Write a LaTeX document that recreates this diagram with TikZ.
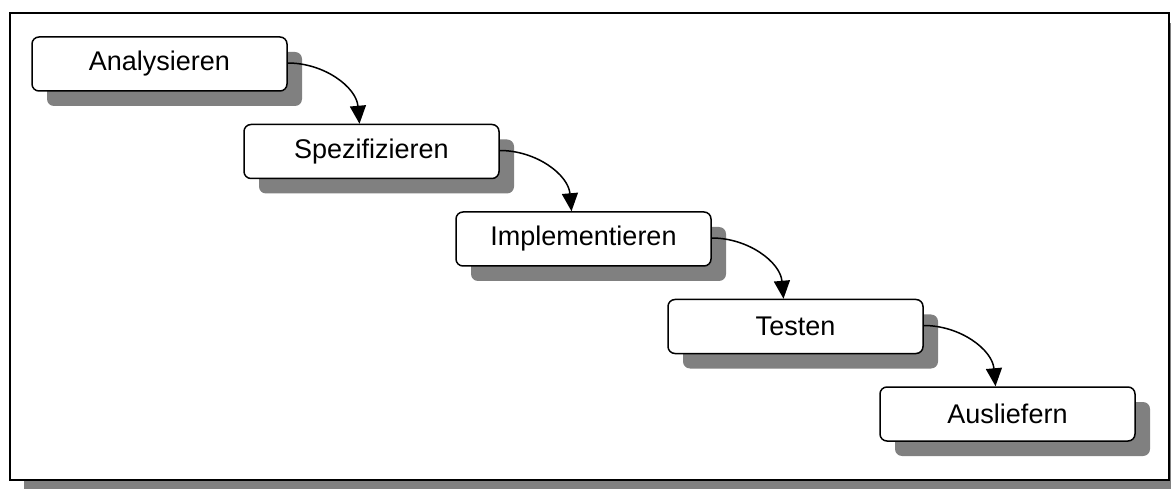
\documentclass[tikz,border=0pt]{standalone}
\usepackage{fontspec}
\setmainfont{Liberation Sans}
\usetikzlibrary{arrows.meta,shadows}
\definecolor{shadowgray}{HTML}{808080}
\tikzset{
  phase/.style={draw=black, line width=1.5pt, rounded corners=7pt, fill=white,
    minimum width=255pt, minimum height=54pt, inner sep=0pt,
    font=\fontsize{27}{32}\selectfont,
    drop shadow={shadow xshift=15pt, shadow yshift=-15pt, fill=shadowgray, opacity=1}},
  flow/.style={line width=1.5pt, -{Triangle[length=18pt,width=16pt]}}
}
\begin{document}
\begin{tikzpicture}[x=1pt,y=-1pt]
  \useasboundingbox (0,0) rectangle (1171,489);
  % outer frame with its shadow
  \begin{scope}
    \clip (0,0) rectangle (1171,489);
    \fill[shadowgray] (24,23) rectangle (1183,494);
    \draw[line width=2pt, fill=white] (10,13) rectangle (1169,480);
  \end{scope}
  % process phases
  \node[phase] (ana) at (159.5,64)    {Analysieren};
  \node[phase] (spe) at (371.5,151.5) {Spezifizieren};
  \node[phase] (imp) at (583.5,239)   {Implementieren};
  \node[phase] (tes) at (795.5,326.5) {Testen};
  \node[phase] (aus) at (1007.5,414)  {Ausliefern};
  % transitions
  \draw[flow] ([yshift=1pt]ana.east) to[out=0,in=95] ([xshift=-12pt]spe.north);
  \draw[flow] ([yshift=1pt]spe.east) to[out=0,in=95] ([xshift=-12pt]imp.north);
  \draw[flow] ([yshift=1pt]imp.east) to[out=0,in=95] ([xshift=-12pt]tes.north);
  \draw[flow] ([yshift=1pt]tes.east) to[out=0,in=95] ([xshift=-12pt]aus.north);
\end{tikzpicture}
\end{document}
